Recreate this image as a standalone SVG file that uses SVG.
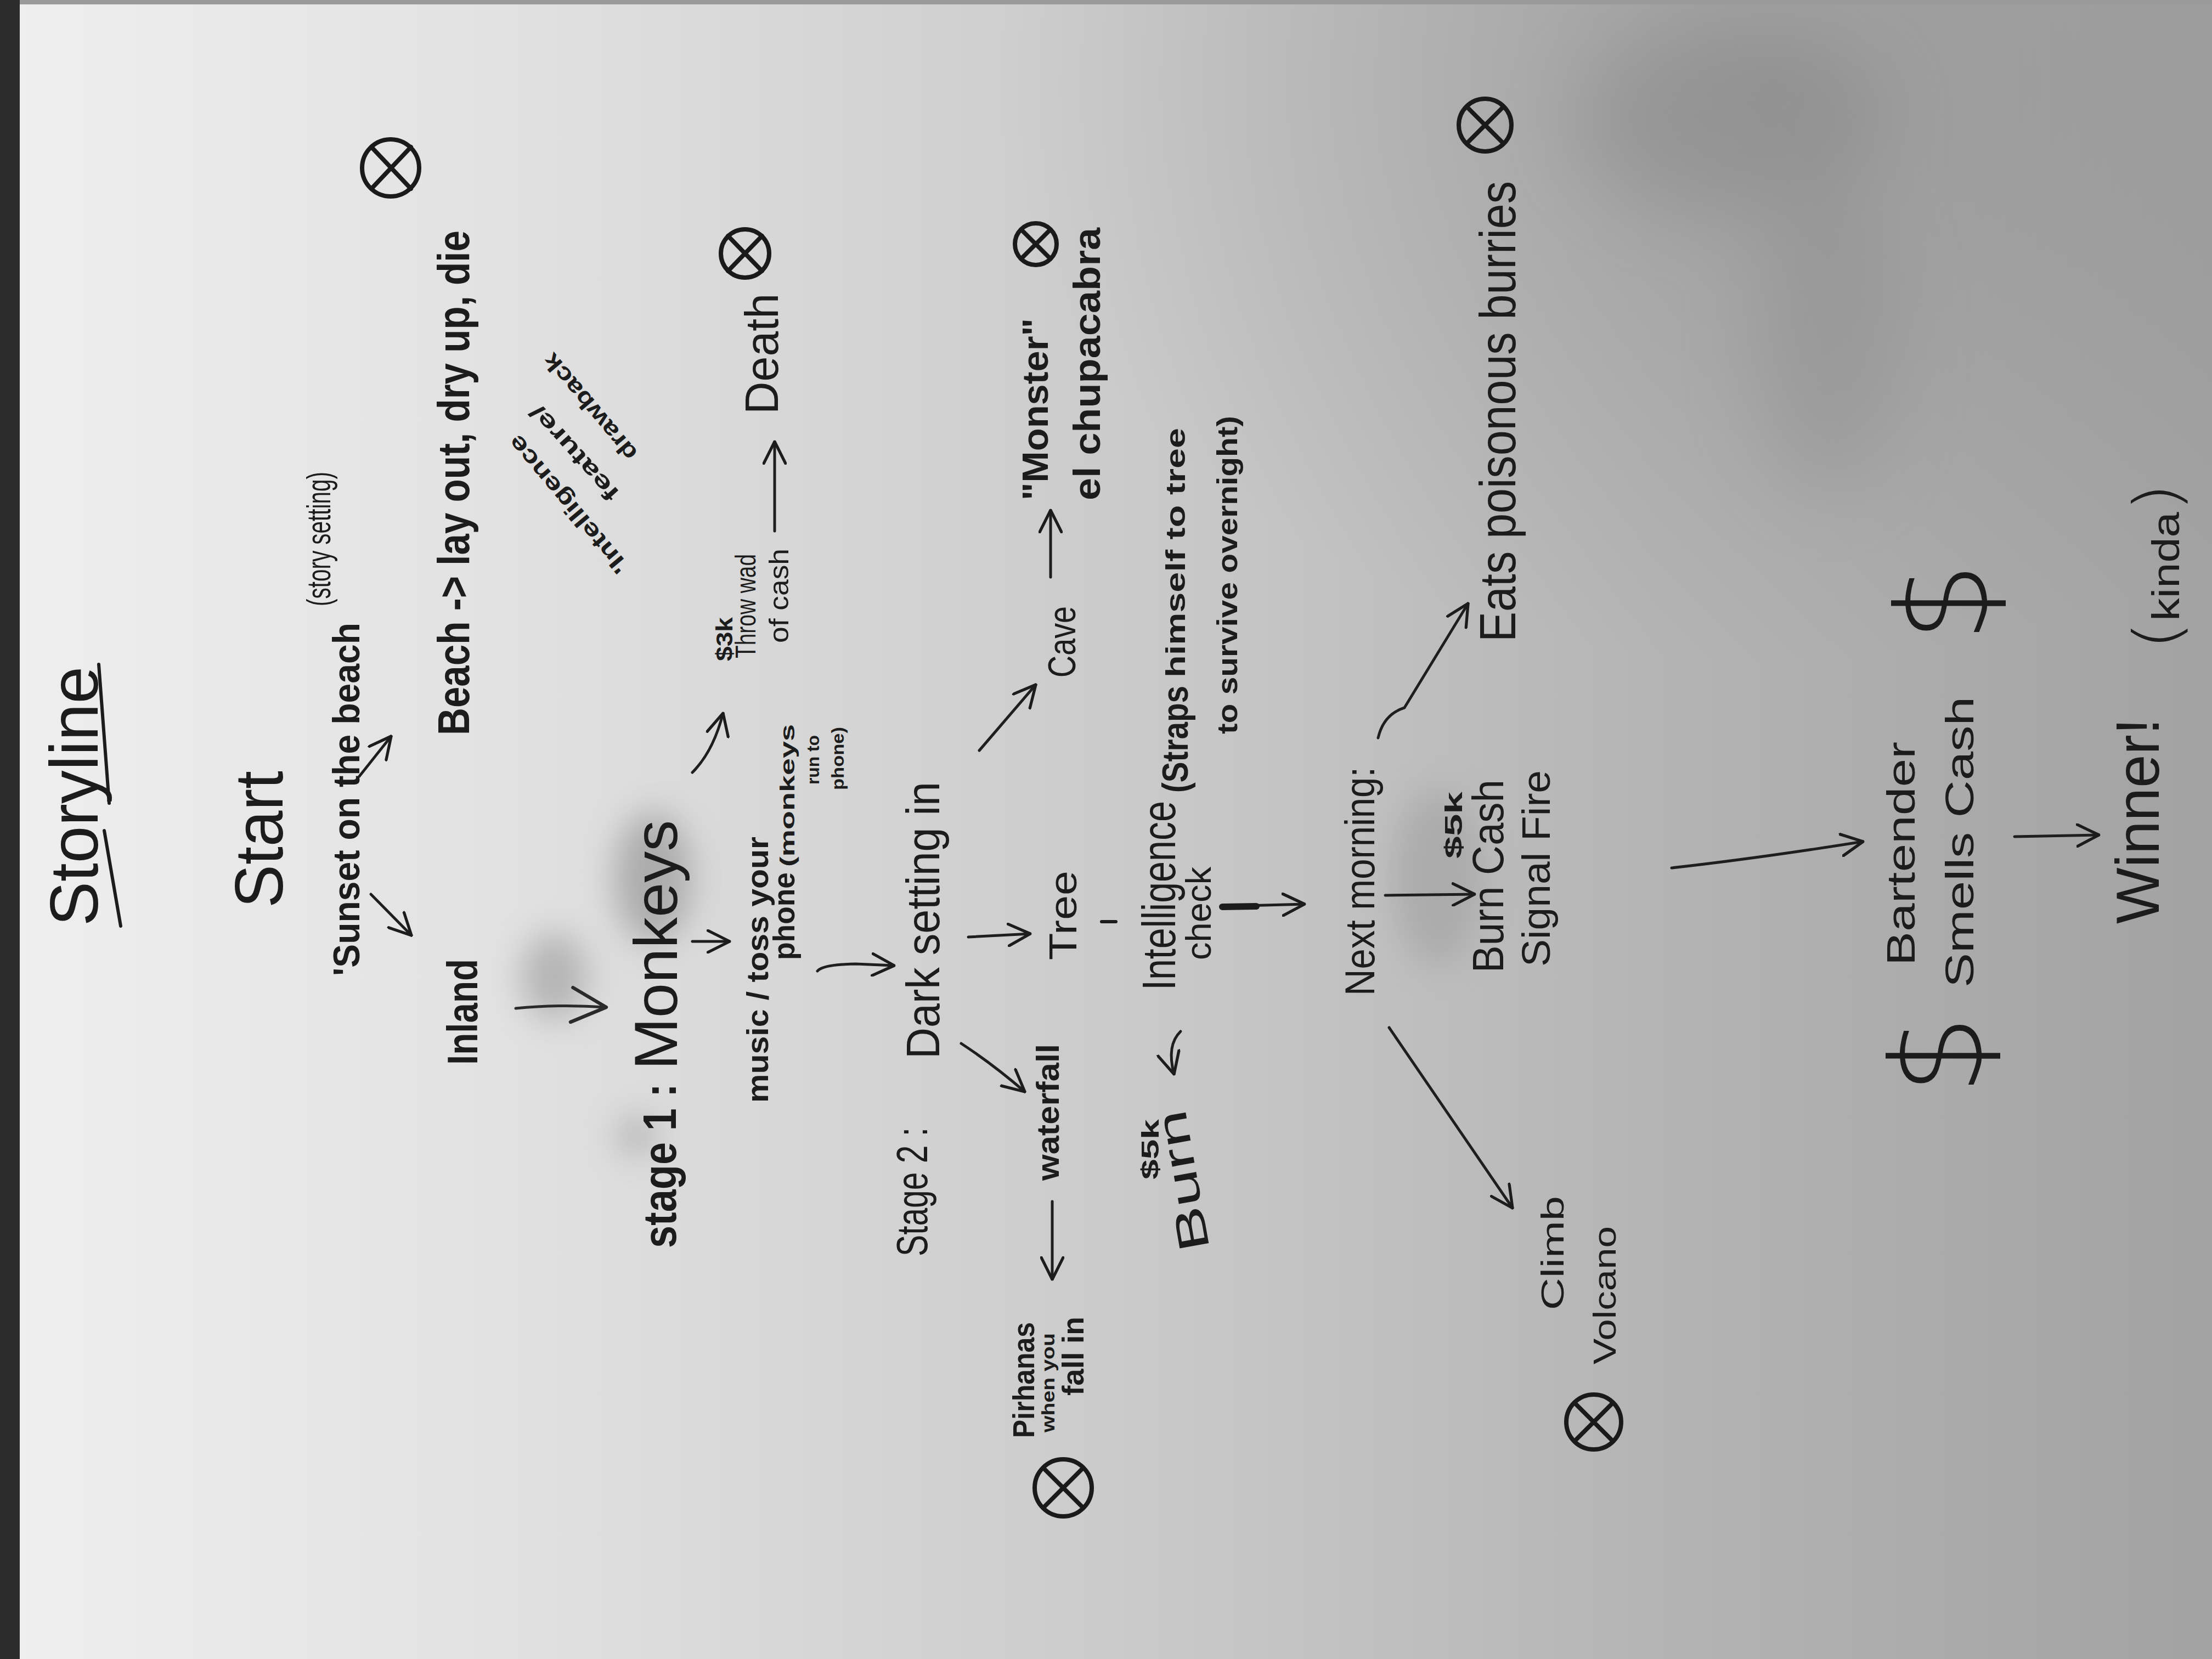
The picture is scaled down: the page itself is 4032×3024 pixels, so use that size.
<svg xmlns="http://www.w3.org/2000/svg" width="4032" height="3024" viewBox="0 0 4032 3024">
<defs>
<linearGradient id="paper" x1="0" y1="0" x2="1" y2="0">
<stop offset="0" stop-color="#efefef"/>
<stop offset="0.22" stop-color="#e2e2e2"/>
<stop offset="0.5" stop-color="#cbcbcb"/>
<stop offset="0.75" stop-color="#b4b4b4"/>
<stop offset="1" stop-color="#a2a2a2"/>
</linearGradient>
<radialGradient id="shade" cx="0.8" cy="0.05" r="0.35">
<stop offset="0" stop-color="#7a7a7a" stop-opacity="0.35"/>
<stop offset="1" stop-color="#7a7a7a" stop-opacity="0"/>
</radialGradient>
<filter id="blur" x="-50%" y="-50%" width="200%" height="200%"><feGaussianBlur stdDeviation="30"/></filter>
<filter id="blurL" x="-80%" y="-80%" width="260%" height="260%"><feGaussianBlur stdDeviation="70"/></filter>
<marker id="ah" viewBox="0 0 20 20" refX="19" refY="10" markerWidth="44" markerHeight="44" markerUnits="userSpaceOnUse" orient="auto">
<path d="M1,1 L19,10 L1,19" fill="none" stroke="#1c1c1c" stroke-width="2.4" stroke-linecap="round" stroke-linejoin="round"/>
</marker>
<marker id="ahL" viewBox="0 0 20 20" refX="19" refY="10" markerWidth="70" markerHeight="70" markerUnits="userSpaceOnUse" orient="auto">
<path d="M1,1 L19,10 L1,19" fill="none" stroke="#2a2a2a" stroke-width="1.8" stroke-linecap="round" stroke-linejoin="round"/>
</marker>
<style>
.t{font-family:"Liberation Sans",Arial,sans-serif;fill:#1c1c1c;}
.b{font-weight:bold;}
.thin{font-family:"DejaVu Sans","Liberation Sans",sans-serif;font-weight:200;fill:#1c1c1c;}
.ink{fill:none;stroke:#1c1c1c;stroke-width:6;stroke-linecap:round;stroke-linejoin:round;}
.con{fill:none;stroke:#1e1e1e;stroke-width:5;stroke-linecap:round;marker-end:url(#ah);}
.xo{fill:none;stroke:#1a1a1a;stroke-width:8;stroke-linecap:round;}
</style>
</defs>

<!-- paper -->
<rect x="0" y="0" width="4032" height="3024" fill="url(#paper)"/>
<rect x="0" y="0" width="4032" height="3024" fill="url(#shade)"/>
<g filter="url(#blur)" opacity="0.5">
<ellipse cx="1190" cy="1600" rx="70" ry="120" fill="#7d7d7d"/>
<ellipse cx="1010" cy="1780" rx="60" ry="80" fill="#8a8a8a"/>
<ellipse cx="1160" cy="2070" rx="35" ry="35" fill="#8a8a8a"/>
<ellipse cx="2620" cy="1600" rx="80" ry="160" fill="#9a9a9a"/>
</g>
<g filter="url(#blurL)" opacity="0.25">
<ellipse cx="3150" cy="220" rx="280" ry="170" fill="#707070"/>
<ellipse cx="3330" cy="620" rx="130" ry="280" fill="#7a7a7a"/>
</g>
<rect x="0" y="0" width="36" height="3024" fill="#2c2c2c"/>
<rect x="36" y="0" width="3996" height="8" fill="#9a9a9a"/>

<g id="connectors">
<path class="con" d="M655,1415 L713,1342"/>
<path class="con" d="M676,1630 L750,1705"/>
<path class="con" style="marker-end:url(#ahL);stroke:#2a2a2a" d="M940,1838 Q1020,1830 1105,1836"/>
<path class="con" d="M1262,1716 L1330,1716"/>
<path class="con" d="M1262,1408 Q1300,1370 1318,1300"/>
<path class="con" d="M1412,968 L1412,805"/>
<path class="con" d="M1490,1770 Q1500,1758 1560,1757 L1630,1760"/>
<path class="con" d="M1765,1708 L1878,1702"/>
<path class="con" d="M1752,1902 Q1810,1940 1868,1990"/>
<path class="con" d="M1918,2190 L1918,2332"/>
<path class="con" d="M1785,1368 L1888,1248"/>
<path class="con" d="M1915,1052 L1915,930"/>
<path class="con" d="M2152,1880 Q2126,1905 2140,1958"/>
<path class="con" d="M2228,1652 L2378,1648"/>
<path fill="none" stroke="#1c1c1c" stroke-width="12" stroke-linecap="round" d="M2228,1653 L2290,1652"/>
<path class="con" d="M2525,1632 L2688,1630"/>
<path class="con" d="M2512,1345 Q2522,1302 2560,1290 L2676,1100"/>
<path class="con" d="M2532,1873 L2757,2202"/>
<path class="con" d="M3047,1582 Q3200,1565 3396,1534"/>
<path class="con" d="M3672,1525 L3826,1522"/>
<path fill="none" stroke="#1c1c1c" stroke-width="6" stroke-linecap="round" d="M2008,1680 L2034,1680"/>
</g>

<g id="title">
<text class="t" transform="translate(178,1688) rotate(-90)" font-size="125" textLength="473" lengthAdjust="spacingAndGlyphs">Storyline</text>
<path class="ink" d="M220,1688 L190,1514 M199,1464 L180,1211"/>
</g>

<g id="start">
<text class="t" transform="translate(515,1655) rotate(-90)" font-size="125" textLength="250" lengthAdjust="spacingAndGlyphs">Start</text>
</g>

<g id="sunset">
<text class="t b" transform="translate(655,1779) rotate(-90)" font-size="68" textLength="644" lengthAdjust="spacingAndGlyphs">'Sunset on the beach</text>
<text class="t" transform="translate(602,1105) rotate(-90)" font-size="62" textLength="245" lengthAdjust="spacingAndGlyphs">(story setting)</text>
</g>

<g id="beach">
<text class="t b" transform="translate(855,1340) rotate(-90)" font-size="82" textLength="920" lengthAdjust="spacingAndGlyphs">Beach -&gt; lay out, dry up, die</text>
<circle class="xo" cx="712" cy="306" r="52"/>
<path class="xo" d="M677,268 L749,344 M749,268 L677,344"/>
</g>

<g id="inland">
<text class="t b" transform="translate(870,1941) rotate(-90)" font-size="78" textLength="193" lengthAdjust="spacingAndGlyphs">Inland</text>
</g>

<g id="stage1">
<text class="t b" transform="translate(1232,2275) rotate(-90)" font-size="85" textLength="300" lengthAdjust="spacingAndGlyphs">stage 1 :</text>
<text class="t" transform="translate(1234,1950) rotate(-90)" font-size="112" textLength="455" lengthAdjust="spacingAndGlyphs">Monkeys</text>
</g>

<g id="music">
<text class="t b" transform="translate(1400,2010) rotate(-90)" font-size="55" textLength="485" lengthAdjust="spacingAndGlyphs">music / toss your</text>
<text class="t b" transform="translate(1448,1750) rotate(-90)" font-size="55" textLength="160" lengthAdjust="spacingAndGlyphs">phone</text>
<text class="t b" transform="translate(1448,1580) rotate(-90)" font-size="36" textLength="260" lengthAdjust="spacingAndGlyphs">(monkeys</text>
<text class="t b" transform="translate(1493,1430) rotate(-90)" font-size="32" textLength="90" lengthAdjust="spacingAndGlyphs">run to</text>
<text class="t b" transform="translate(1538,1440) rotate(-90)" font-size="32" textLength="115" lengthAdjust="spacingAndGlyphs">phone)</text>
</g>

<g id="throw">
<text class="t b" transform="translate(1335,1205) rotate(-90)" font-size="42" textLength="80" lengthAdjust="spacingAndGlyphs">$3k</text>
<text class="t" transform="translate(1377,1200) rotate(-90)" font-size="52" textLength="190" lengthAdjust="spacingAndGlyphs">Throw wad</text>
<text class="t" transform="translate(1437,1172) rotate(-90)" font-size="50" textLength="172" lengthAdjust="spacingAndGlyphs">of  cash</text>
</g>

<g id="death">
<text class="t" transform="translate(1418,755) rotate(-90)" font-size="85" textLength="220" lengthAdjust="spacingAndGlyphs">Death</text>
<circle class="xo" cx="1358" cy="462" r="44"/>
<path class="xo" d="M1327,430 L1389,494 M1389,430 L1327,494"/>
</g>

<g id="note">
<text class="t b" transform="translate(1148,1031) rotate(-130)" font-size="42" textLength="315" lengthAdjust="spacingAndGlyphs">'Intelligence</text>
<text class="t b" transform="translate(1131,898) rotate(-132)" font-size="42" textLength="220" lengthAdjust="spacingAndGlyphs">feature/</text>
<text class="t b" transform="translate(1164,825) rotate(-130)" font-size="42" textLength="241" lengthAdjust="spacingAndGlyphs">drawback</text>
</g>

<g id="stage2">
<text class="t" transform="translate(1690,2290) rotate(-90)" font-size="80" textLength="235" lengthAdjust="spacingAndGlyphs">Stage 2 :</text>
<text class="t" transform="translate(1712,1930) rotate(-90)" font-size="85" textLength="505" lengthAdjust="spacingAndGlyphs">Dark setting in</text>
</g>

<g id="tree">
<text class="t" transform="translate(1962,1750) rotate(-90)" font-size="70" textLength="163" lengthAdjust="spacingAndGlyphs">Tree</text>
</g>

<g id="waterfall">
<text class="t b" transform="translate(1930,2152) rotate(-90)" font-size="58" textLength="249" lengthAdjust="spacingAndGlyphs">waterfall</text>
</g>

<g id="pirhanas">
<text class="t b" transform="translate(1885,2621) rotate(-90)" font-size="56" textLength="211" lengthAdjust="spacingAndGlyphs">Pirhanas</text>
<text class="t b" transform="translate(1922,2611) rotate(-90)" font-size="34" textLength="181" lengthAdjust="spacingAndGlyphs">when you</text>
<text class="t b" transform="translate(1975,2544) rotate(-90)" font-size="56" textLength="144" lengthAdjust="spacingAndGlyphs">fall in</text>
<circle class="xo" cx="1938" cy="2712" r="52"/>
<path class="xo" d="M1902,2676 L1974,2748 M1974,2676 L1902,2748"/>
</g>

<g id="cave">
<text class="t" transform="translate(1960,1235) rotate(-90)" font-size="70" textLength="130" lengthAdjust="spacingAndGlyphs">Cave</text>
</g>

<g id="monster">
<text class="t b" transform="translate(1910,912) rotate(-90)" font-size="66" textLength="332" lengthAdjust="spacingAndGlyphs">"Monster"</text>
<circle class="xo" cx="1888" cy="445" r="38"/>
<path class="xo" d="M1862,419 L1914,471 M1914,419 L1862,471"/>
<text class="t b" transform="translate(2005,912) rotate(-90)" font-size="68" textLength="497" lengthAdjust="spacingAndGlyphs">el chupacabra</text>
</g>

<g id="intelligence">
<text class="t" transform="translate(2142,1805) rotate(-90)" font-size="85" textLength="345" lengthAdjust="spacingAndGlyphs">Intelligence</text>
<text class="t b" transform="translate(2165,1445) rotate(-90)" font-size="66" textLength="195" lengthAdjust="spacingAndGlyphs">(Straps</text>
<text class="t b" transform="translate(2160,1235) rotate(-90)" font-size="50" textLength="455" lengthAdjust="spacingAndGlyphs">himself to tree</text>
<text class="t b" transform="translate(2255,1338) rotate(-90)" font-size="52" textLength="580" lengthAdjust="spacingAndGlyphs">to survive overnight)</text>
<text class="t" transform="translate(2207,1750) rotate(-90)" font-size="64" textLength="170" lengthAdjust="spacingAndGlyphs">check</text>
</g>

<g id="burn1">
<text class="t" transform="translate(2205,2276) rotate(-100)" font-size="78" textLength="260" lengthAdjust="spacingAndGlyphs">Burn</text>
<text class="t b" transform="translate(2112,2150) rotate(-90)" font-size="44" textLength="110" lengthAdjust="spacingAndGlyphs">$5k</text>
</g>

<g id="nextmorning">
<text class="t" transform="translate(2505,1815) rotate(-90)" font-size="76" textLength="417" lengthAdjust="spacingAndGlyphs">Next morning:</text>
</g>

<g id="burncash">
<text class="t b" transform="translate(2665,1565) rotate(-90)" font-size="45" textLength="122" lengthAdjust="spacingAndGlyphs">$5k</text>
<text class="t" transform="translate(2740,1773) rotate(-90)" font-size="80" textLength="352" lengthAdjust="spacingAndGlyphs">Burn Cash</text>
<text class="t" transform="translate(2825,1762) rotate(-90)" font-size="72" textLength="358" lengthAdjust="spacingAndGlyphs">Signal Fire</text>
</g>

<g id="eats">
<text class="t" transform="translate(2762,1170) rotate(-90)" font-size="92" textLength="840" lengthAdjust="spacingAndGlyphs">Eats poisonous burries</text>
<circle class="xo" cx="2707" cy="228" r="48"/>
<path class="xo" d="M2674,195 L2740,261 M2740,195 L2674,261"/>
</g>

<g id="volcano">
<text class="t" transform="translate(2850,2388) rotate(-90)" font-size="58" textLength="208" lengthAdjust="spacingAndGlyphs">Climb</text>
<text class="t" transform="translate(2945,2487) rotate(-90)" font-size="58" textLength="252" lengthAdjust="spacingAndGlyphs">Volcano</text>
<circle class="xo" cx="2905" cy="2592" r="50"/>
<path class="xo" d="M2870,2557 L2940,2627 M2940,2557 L2870,2627"/>
</g>

<g id="bartender">
<text class="t" transform="translate(3490,1760) rotate(-90)" font-size="72" textLength="408" lengthAdjust="spacingAndGlyphs">Bartender</text>
<text class="t" transform="translate(3597,1800) rotate(-90)" font-size="72" textLength="530" lengthAdjust="spacingAndGlyphs">Smells  Cash</text>
<text class="thin" transform="translate(3612,1996) rotate(-90)" font-size="230">$</text>
<text class="thin" transform="translate(3622,1171) rotate(-90)" font-size="230">$</text>
</g>

<g id="winner">
<text class="t" transform="translate(3935,1684) rotate(-90)" font-size="112" textLength="375" lengthAdjust="spacingAndGlyphs">Winner!</text>
<text class="thin" transform="translate(3972,1185) rotate(-90)" textLength="305" lengthAdjust="spacingAndGlyphs"><tspan font-size="115">(</tspan><tspan class="t" font-size="70">kinda</tspan><tspan font-size="115">)</tspan></text>
</g>
</svg>
